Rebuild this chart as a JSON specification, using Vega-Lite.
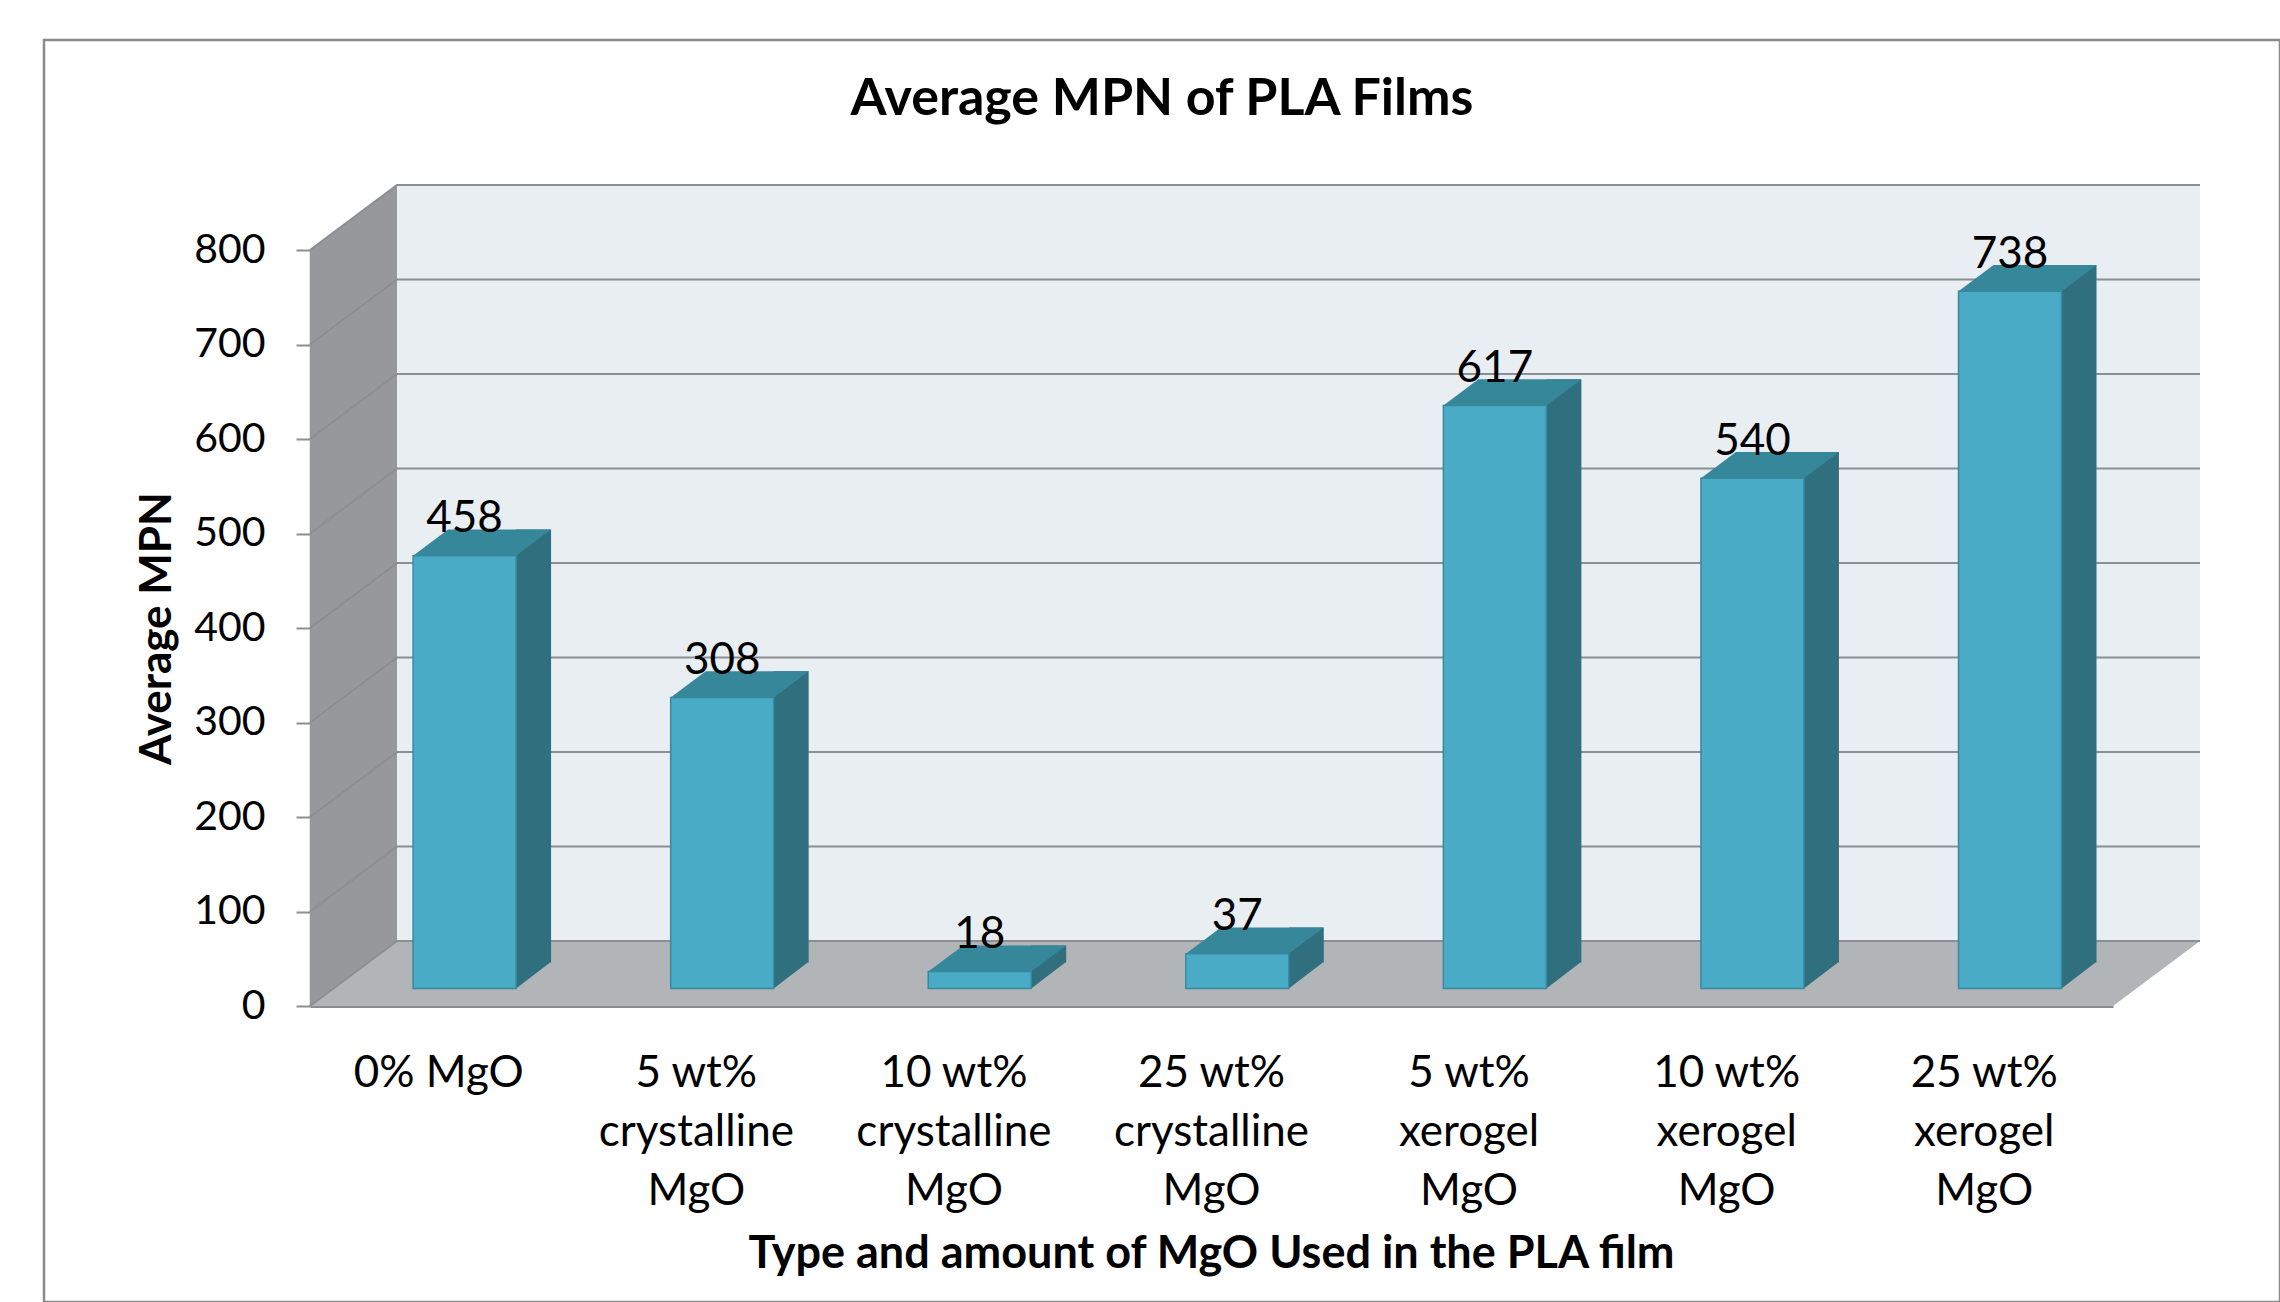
{
  "$schema": "https://vega.github.io/schema/vega-lite/v6.json",
  "width": 2236,
  "height": 1262,
  "autosize": {"type": "none"},
  "padding": {"left": 44, "top": 40, "right": 0, "bottom": 0},
  "background": "white",
  "config": {
    "view": {"stroke": "#8a8a8a", "strokeWidth": 2.5, "fill": "white"},
    "font": "Lato"
  },
  "title": {
    "text": "Average MPN of PLA Films",
    "font": "Lato",
    "fontSize": 52,
    "fontWeight": "bold",
    "color": "#000000",
    "anchor": "middle",
    "frame": "group",
    "baseline": "alphabetic",
    "offset": -127
  },
  "datasets": {
    "films": [
      {"cat": "0% MgO", "v": 458},
      {"cat": "5 wt% crystalline MgO", "v": 308},
      {"cat": "10 wt% crystalline MgO", "v": 18},
      {"cat": "25 wt% crystalline MgO", "v": 37},
      {"cat": "5 wt% xerogel MgO", "v": 617},
      {"cat": "10 wt% xerogel MgO", "v": 540},
      {"cat": "25 wt% xerogel MgO", "v": 738}
    ],
    "ticks": [
      {"v": 0}, {"v": 100}, {"v": 200}, {"v": 300}, {"v": 400},
      {"v": 500}, {"v": 600}, {"v": 700}, {"v": 800}
    ]
  },
  "layer": [
    {
      "data": {"values": [{}]},
      "mark": {"type": "point", "shape": "M87,-65 L1890,-65 L1890,-821 L87,-821 Z", "size": 4, "filled": true, "color": "#e9eef3", "fill": "#e9eef3", "opacity": 1, "strokeWidth": 0},
      "encoding": {
        "x": {"datum": "0% MgO", "type": "nominal", "bandPosition": 0, "scale": {"type": "band", "domain": ["0% MgO", "5 wt% crystalline MgO", "10 wt% crystalline MgO", "25 wt% crystalline MgO", "5 wt% xerogel MgO", "10 wt% xerogel MgO", "25 wt% xerogel MgO"], "range": [266, 2069], "paddingInner": 0, "paddingOuter": 0}},
        "y": {"datum": 0, "type": "quantitative", "scale": {"type": "linear", "domain": [0, 800], "range": [966, 210], "nice": false, "zero": true}}
      }
    },
    {
      "data": {"values": [{}]},
      "mark": {"type": "point", "shape": "M0,0 L0,-756 L87,-821 L87,-65 Z", "size": 4, "filled": true, "color": "#96989c", "fill": "#96989c", "opacity": 1, "strokeWidth": 0},
      "encoding": {
        "x": {"datum": "0% MgO", "type": "nominal", "bandPosition": 0},
        "y": {"datum": 0, "type": "quantitative"}
      }
    },
    {
      "data": {"values": [{}]},
      "mark": {"type": "point", "shape": "M0,0 L1803,0 L1890,-65 L87,-65 Z", "size": 4, "filled": true, "color": "#b2b5b8", "fill": "#b2b5b8", "opacity": 1, "strokeWidth": 0},
      "encoding": {
        "x": {"datum": "0% MgO", "type": "nominal", "bandPosition": 0},
        "y": {"datum": 0, "type": "quantitative"}
      }
    },
    {
      "data": {"name": "ticks"},
      "mark": {"type": "point", "shape": "M0,0 L87,-65 L1890,-65", "size": 4, "filled": false, "stroke": "#8b8e92", "strokeWidth": 2, "opacity": 1},
      "encoding": {
        "x": {"datum": "0% MgO", "type": "nominal", "bandPosition": 0},
        "y": {"field": "v", "type": "quantitative"}
      }
    },
    {
      "data": {"name": "films"},
      "mark": {"type": "bar", "width": 35, "xOffset": 94.8, "yOffset": -43.6, "y2Offset": -43.6, "color": "#306f7e", "fill": "#306f7e", "strokeWidth": 0},
      "encoding": {
        "x": {"field": "cat", "type": "nominal"},
        "y": {"field": "v", "type": "quantitative"},
        "y2": {"datum": 0}
      }
    },
    {
      "data": {"name": "films"},
      "mark": {"type": "point", "shape": "M77.3,-17.4 L77.3,-44.2 L112.3,-44.2 Z", "size": 4, "filled": true, "color": "#306f7e", "fill": "#306f7e", "opacity": 1, "strokeWidth": 0},
      "encoding": {
        "x": {"field": "cat", "type": "nominal"},
        "y": {"datum": 0, "type": "quantitative"}
      }
    },
    {
      "data": {"name": "films"},
      "mark": {"type": "bar", "width": 103, "xOffset": 25.8, "yOffset": -17.4, "y2Offset": -17.4, "color": "#4aabc6", "fill": "#4aabc6", "stroke": "#3889a1", "strokeWidth": 1.5},
      "encoding": {
        "x": {
          "field": "cat", "type": "nominal",
          "axis": {
            "title": "Type and amount of MgO Used in the PLA film",
            "titleFont": "Lato", "titleFontSize": 45, "titleFontWeight": "bold", "titleColor": "#000000",
            "titleX": 1167, "titleY": 247, "titleBaseline": "middle", "titleAlign": "center", "titleAnchor": null,
            "offset": -296,
            "labelExpr": "datum.label == '0% MgO' ? datum.label : [split(datum.label, ' ')[0] + ' ' + split(datum.label, ' ')[1], split(datum.label, ' ')[2], split(datum.label, ' ')[3]]",
            "labelFont": "Lato", "labelFontSize": 44, "labelColor": "#000000", "labelLineHeight": 59,
            "labelAngle": 0, "labelAlign": "center", "labelLimit": 0, "labelPadding": 45, "labelBaseline": "top",
            "labelOverlap": false,
            "ticks": false, "tickSize": 0,
            "domain": true, "domainColor": "#898c90", "domainWidth": 3,
            "grid": false
          }
        },
        "y": {
          "field": "v", "type": "quantitative",
          "axis": {
            "title": "Average MPN",
            "titleFont": "Lato", "titleFontSize": 44, "titleFontWeight": "bold", "titleColor": "#000000",
            "titleX": -153, "titleY": 588, "titleAngle": 270, "titleBaseline": "middle", "titleAlign": "center", "titleAnchor": null,
            "offset": -266,
            "values": [0, 100, 200, 300, 400, 500, 600, 700, 800],
            "labelFont": "Lato", "labelFontSize": 41, "labelColor": "#000000", "labelPadding": 31,
            "tickSize": 14, "tickColor": "#8b8e92", "tickWidth": 2,
            "domain": true, "domainColor": "#8b8e92", "domainWidth": 1.5,
            "grid": false
          }
        },
        "y2": {"datum": 0}
      }
    },
    {
      "data": {"name": "films"},
      "mark": {"type": "point", "shape": "M-25.7,-17.4 L77.3,-17.4 L112.3,-43.6 L9.3,-43.6 Z", "size": 4, "filled": true, "color": "#37879b", "fill": "#37879b", "opacity": 1, "strokeWidth": 0},
      "encoding": {
        "x": {"field": "cat", "type": "nominal"},
        "y": {"field": "v", "type": "quantitative"}
      }
    },
    {
      "data": {"name": "films"},
      "mark": {"type": "text", "dx": 25.8, "dy": -41, "align": "center", "baseline": "alphabetic", "font": "Lato", "fontSize": 44, "color": "#000000"},
      "encoding": {
        "x": {"field": "cat", "type": "nominal"},
        "y": {"field": "v", "type": "quantitative"},
        "text": {"field": "v", "type": "quantitative"}
      }
    }
  ]
}
